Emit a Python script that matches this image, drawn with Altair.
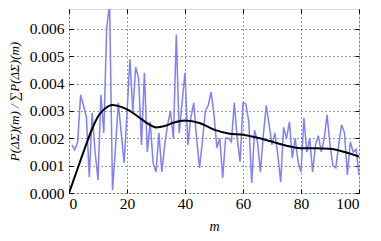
import altair as alt
import pandas as pd

# noisy series, m = 1..100, values in units of 1e-3
m_noisy = list(range(1, 101))
v_noisy = [
    1.76, 1.58, 1.87, 3.59, 3.20, 2.78, 0.59, 2.93, 1.50, 0.48,
    3.59, 2.20, 6.04, 6.90, 0.10, 1.60, 3.30, 2.20, 1.10, 2.90,
    4.90, 3.00, 4.60, 4.20, 1.76, 4.40, 1.50, 2.60, 1.10, 0.77,
    2.20, 0.77, 1.76, 2.50, 3.00, 2.00, 5.80, 2.20, 3.30, 4.40,
    1.76, 2.75, 3.30, 2.00, 0.92, 1.87, 3.00, 3.20, 3.70, 2.86,
    1.65, 2.00, 0.55, 2.00, 2.00, 1.87, 3.30, 2.00, 1.14, 3.30,
    3.25, 2.60, 0.37, 2.30, 1.87, 0.77, 2.10, 3.20, 2.50, 1.76,
    2.20, 1.40, 0.40, 2.40, 2.00, 2.60, 1.28, 2.00, 1.14, 0.77,
    2.75, 1.50, 2.00, 0.77, 1.76, 2.10, 1.50, 2.00, 2.86, 1.76,
    1.00, 0.92, 1.76, 2.50, 2.20, 0.66, 1.87, 1.50, 1.60, 0.66,
]

# smooth series (read at selected m), units of 1e-3
m_smooth = [0, 2, 4, 6, 8, 10, 12, 15, 18, 21, 24, 27, 30, 33, 36, 40,
            45, 50, 55, 60, 65, 70, 75, 80, 85, 90, 95, 100]
v_smooth = [0.0, 0.6, 1.2, 1.8, 2.35, 2.8, 3.05, 3.22, 3.15, 3.0, 2.78,
            2.55, 2.4, 2.45, 2.57, 2.65, 2.56, 2.32, 2.18, 2.13, 2.02,
            1.88, 1.73, 1.64, 1.64, 1.62, 1.5, 1.33]

x_ticks = [0, 20, 40, 60, 80, 100]
y_ticks = [0.0, 0.001, 0.002, 0.003, 0.004, 0.005, 0.006]

noisy = pd.DataFrame({"m": m_noisy, "p": [v / 1000 for v in v_noisy]})
smooth = pd.DataFrame({"m": m_smooth, "p": [v / 1000 for v in v_smooth]})

SERIF = "'Liberation Serif', 'Times New Roman', Times, serif"
xscale = alt.Scale(domain=[0, 100], nice=False, zero=False)
yscale = alt.Scale(domain=[0, 0.00673], nice=False)

grid_common = dict(grid=True, gridColor="#000000", gridOpacity=0.8,
                   gridDash=[1, 3], gridWidth=1)

x_main = alt.Axis(orient="bottom", values=x_ticks, offset=-4, tickSize=4,
                  tickColor="black", tickWidth=1, domain=False,
                  labelFont=SERIF, labelFontSize=15.5, labelColor="black",
                  labelPadding=3, title="m", titleFont=SERIF,
                  titleFontStyle="italic", titleFontWeight="normal",
                  titleFontSize=14, titleColor="black", titlePadding=8,
                  **grid_common)
y_main = alt.Axis(orient="left", values=y_ticks, format=".3f", offset=-4,
                  tickSize=4, tickColor="black", tickWidth=1, domain=False,
                  labelFont=SERIF, labelFontSize=15.5, labelColor="black",
                  labelPadding=5,
                  title="P(ΔΣ)(m) / ∑P(ΔΣ)(m)", titleFont=SERIF,
                  titleFontStyle="italic", titleFontWeight="normal",
                  titleFontSize=13, titleColor="black", titlePadding=8,
                  **grid_common)
x_top = alt.Axis(orient="top", values=x_ticks, offset=-4, tickSize=4,
                 tickColor="black", domain=False, labels=False, grid=False,
                 title=None)
y_right = alt.Axis(orient="right", values=y_ticks, offset=-4, tickSize=4,
                   tickColor="black", domain=False, labels=False, grid=False,
                   title=None)

blue = alt.Chart(noisy).mark_line(color="#7f7fff", strokeWidth=1.5,
                                  clip=True).encode(
    x=alt.X("m:Q", scale=xscale, axis=x_main),
    y=alt.Y("p:Q", scale=yscale, axis=y_main),
)
black = alt.Chart(smooth).mark_line(color="black", strokeWidth=2,
                                    interpolate="monotone", clip=True).encode(
    x=alt.X("m:Q", scale=xscale, axis=x_top),
    y=alt.Y("p:Q", scale=yscale, axis=y_right),
)

chart = alt.layer(blue, black).resolve_axis(
    x="independent", y="independent"
).properties(
    width=290, height=184,
    autosize=alt.AutoSizeParams(type="none"),
    padding={"left": 61, "top": 1, "right": 14, "bottom": 48},
).configure_view(
    stroke="black", strokeWidth=1.5
).configure(background="white")

chart.save("out.html", embed_options={"renderer": "svg", "actions": False})
